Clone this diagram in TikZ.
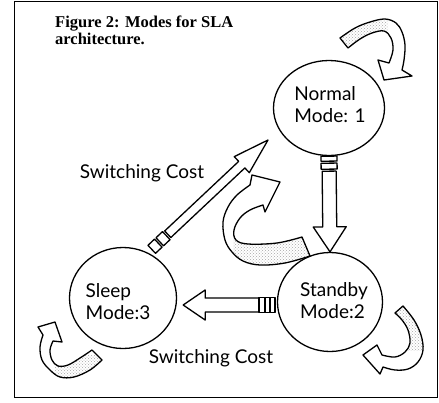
\documentclass[tikz,border=0pt]{standalone}
\usepackage{fontspec}
\setmainfont{Liberation Serif}
\newfontfamily\handfont{Lato}
\usetikzlibrary{shapes.geometric,calc,patterns}

\tikzset{
  ink/.style={line width=1.3pt, line join=round, line cap=round},
  modecirc/.style={ellipse, draw, ink, fill=white, inner sep=0pt},
  modetext/.style={font=\handfont\fontsize{19}{22}\selectfont, align=left, inner sep=0pt},
  costlabel/.style={font=\handfont\fontsize{19}{21}\selectfont, inner sep=0pt},
  blockarrow/.style={ink, draw, fill=white},
  stipple/.style={pattern=crosshatch dots, pattern color=black!35},
  titletext/.style={font=\bfseries\fontsize{16.5}{16.5}\selectfont, align=left, inner sep=0pt, anchor=north west},
  framebox/.style={line width=1.6pt}
}

% straight block arrow: #1 start, #2 tip, #3 shaft start distance, #4 shaft half width, #5 head half width, #6 head length
\newcommand{\blockarr}[6]{%
  \draw[blockarrow]
    ($(#1)!#3!(#2)!#4!90:(#2)$) --
    ($(#2)!#6!(#1)!#4!-90:(#1)$) --
    ($(#2)!#6!(#1)!#5!-90:(#1)$) --
    (#2) --
    ($(#2)!#6!(#1)!#5!90:(#1)$) --
    ($(#2)!#6!(#1)!#4!90:(#1)$) --
    ($(#1)!#3!(#2)!#4!-90:(#2)$) -- cycle;}
% stub rectangle: #1 start, #2 tip, #3 d1, #4 d2, #5 half width
\newcommand{\stubrect}[5]{%
  \draw[blockarrow]
    ($(#1)!#3!(#2)!#5!90:(#2)$) --
    ($(#1)!#4!(#2)!#5!90:(#2)$) --
    ($(#1)!#4!(#2)!#5!-90:(#2)$) --
    ($(#1)!#3!(#2)!#5!-90:(#2)$) -- cycle;}

\def\centerloop{(302,237) -- (310,256) -- plot[smooth,tension=0.6] coordinates {(310,256) (285,263) (260,265) (243,261) (232,252) (225,240) (223,222) (228,207) (237,195) (250,185)} -- (252,175) -- (280,182) -- (265,212) -- plot[smooth,tension=0.6] coordinates {(263,205) (250,210) (240,218) (234,230) (236,240) (248,244) (277,243) (302,237)} -- cycle}
\def\normalloop{(348,48) -- (340,38) -- plot[smooth,tension=0.6] coordinates {(340,38) (355,28) (370,22) (385,19) (396,23) (402,32) (405,45) (404,60) (402,70)} -- (412,76) -- (384,80) -- (378,60) -- plot[smooth,tension=0.6] coordinates {(389,63) (393,50) (391,38) (384,31) (372,33) (360,39) (348,48)} -- cycle}
\def\standbyloop{(395,313) -- (403,306) -- plot[smooth,tension=0.6] coordinates {(403,306) (414,320) (421,335) (423,350) (418,362) (408,369) (395,370) (383,367)} -- (380,374) -- (363,355) -- (377,345) -- plot[smooth,tension=0.6] coordinates {(382,355) (395,357) (405,352) (410,343) (408,330) (402,320) (395,313)} -- cycle}
\def\sleeploop{(102,360) -- (92,350) -- plot[smooth,tension=0.6] coordinates {(92,350) (80,358) (68,365) (58,366) (52,360) (50,350) (53,341)} -- (62,342) -- (55,322) -- (38,327) -- plot[smooth,tension=0.6] coordinates {(43,335) (40,347) (42,360) (50,370) (60,377) (74,377) (90,370) (102,360)} -- cycle}

\begin{document}
\begin{tikzpicture}[x=1pt,y=-1pt]
\useasboundingbox (0,0) rectangle (439,402);
\fill[white] (0,0) rectangle (439,402);
\draw[framebox] (14.5,1.5) rectangle (437.5,397.5);

% title
\node[titletext] (title) at (55,16) {Figure 2: Modes for SLA\\architecture.};

% mode circles
\node[modecirc, minimum width=111pt, minimum height=95pt] (normal) at (329,108) {};
\node[modecirc, minimum width=105pt, minimum height=99pt] (standby) at (330,302) {};
\node[modecirc, minimum width=107pt, minimum height=101pt] (sleep) at (123,298) {};

\node[modetext] (normaltxt) at ($(normal.center)+(1,-3)$) {Normal\\Mode: 1};
\node[modetext] (standbytxt) at ($(standby.center)+(4,-1)$) {Standby\\Mode:2};
\node[modetext] (sleeptxt) at ($(sleep.center)+(-5,4)$) {Sleep\\Mode:3};

% connector end points
\coordinate (nsA) at (normal.south);
\coordinate (nsB) at (standby.north);
\coordinate (ssA) at ($(standby.west)+(-2,3)$);
\coordinate (ssB) at ($(sleep.east)+(6,7)$);
\coordinate (slA) at ($(sleep.center)+(28,-48)$);
\coordinate (slB) at ($(normal.center)+(-61,32)$);

% Normal -> Standby
\stubrect{nsA}{nsB}{0pt}{5pt}{8pt}
\stubrect{nsA}{nsB}{7pt}{13pt}{8pt}
\blockarr{nsA}{nsB}{15pt}{7pt}{16.5pt}{25pt}

% Standby -> Sleep
\stubrect{ssA}{ssB}{0pt}{5pt}{7.5pt}
\stubrect{ssA}{ssB}{5pt}{10pt}{7.5pt}
\stubrect{ssA}{ssB}{10pt}{16pt}{7.5pt}
\blockarr{ssA}{ssB}{16pt}{7pt}{15pt}{22pt}

% Sleep -> Normal
\stubrect{slA}{slB}{1pt}{10pt}{5.5pt}
\stubrect{slA}{slB}{12pt}{21pt}{5.5pt}
\blockarr{slA}{slB}{23pt}{4.5pt}{11pt}{36pt}

% labels
\node[costlabel] (costup) at (142,173) {Switching Cost};
\node[costlabel] (costdown) at (211,358) {Switching Cost};

% curved self arrows
\fill[white] \centerloop;
\begin{scope}\clip (233,230) rectangle (315,270); \fill[stipple] \centerloop; \end{scope}
\draw[ink] \centerloop;

\fill[white] \normalloop;
\begin{scope}\clip (330,10) rectangle (388,55); \fill[stipple] \normalloop; \end{scope}
\draw[ink] \normalloop;

\fill[white] \standbyloop;
\begin{scope}\clip (385,300) rectangle (430,350); \fill[stipple] \standbyloop; \end{scope}
\draw[ink] \standbyloop;

\fill[white] \sleeploop;
\begin{scope}\clip (55,355) rectangle (110,385); \fill[stipple] \sleeploop; \end{scope}
\draw[ink] \sleeploop;
\end{tikzpicture}
\end{document}
